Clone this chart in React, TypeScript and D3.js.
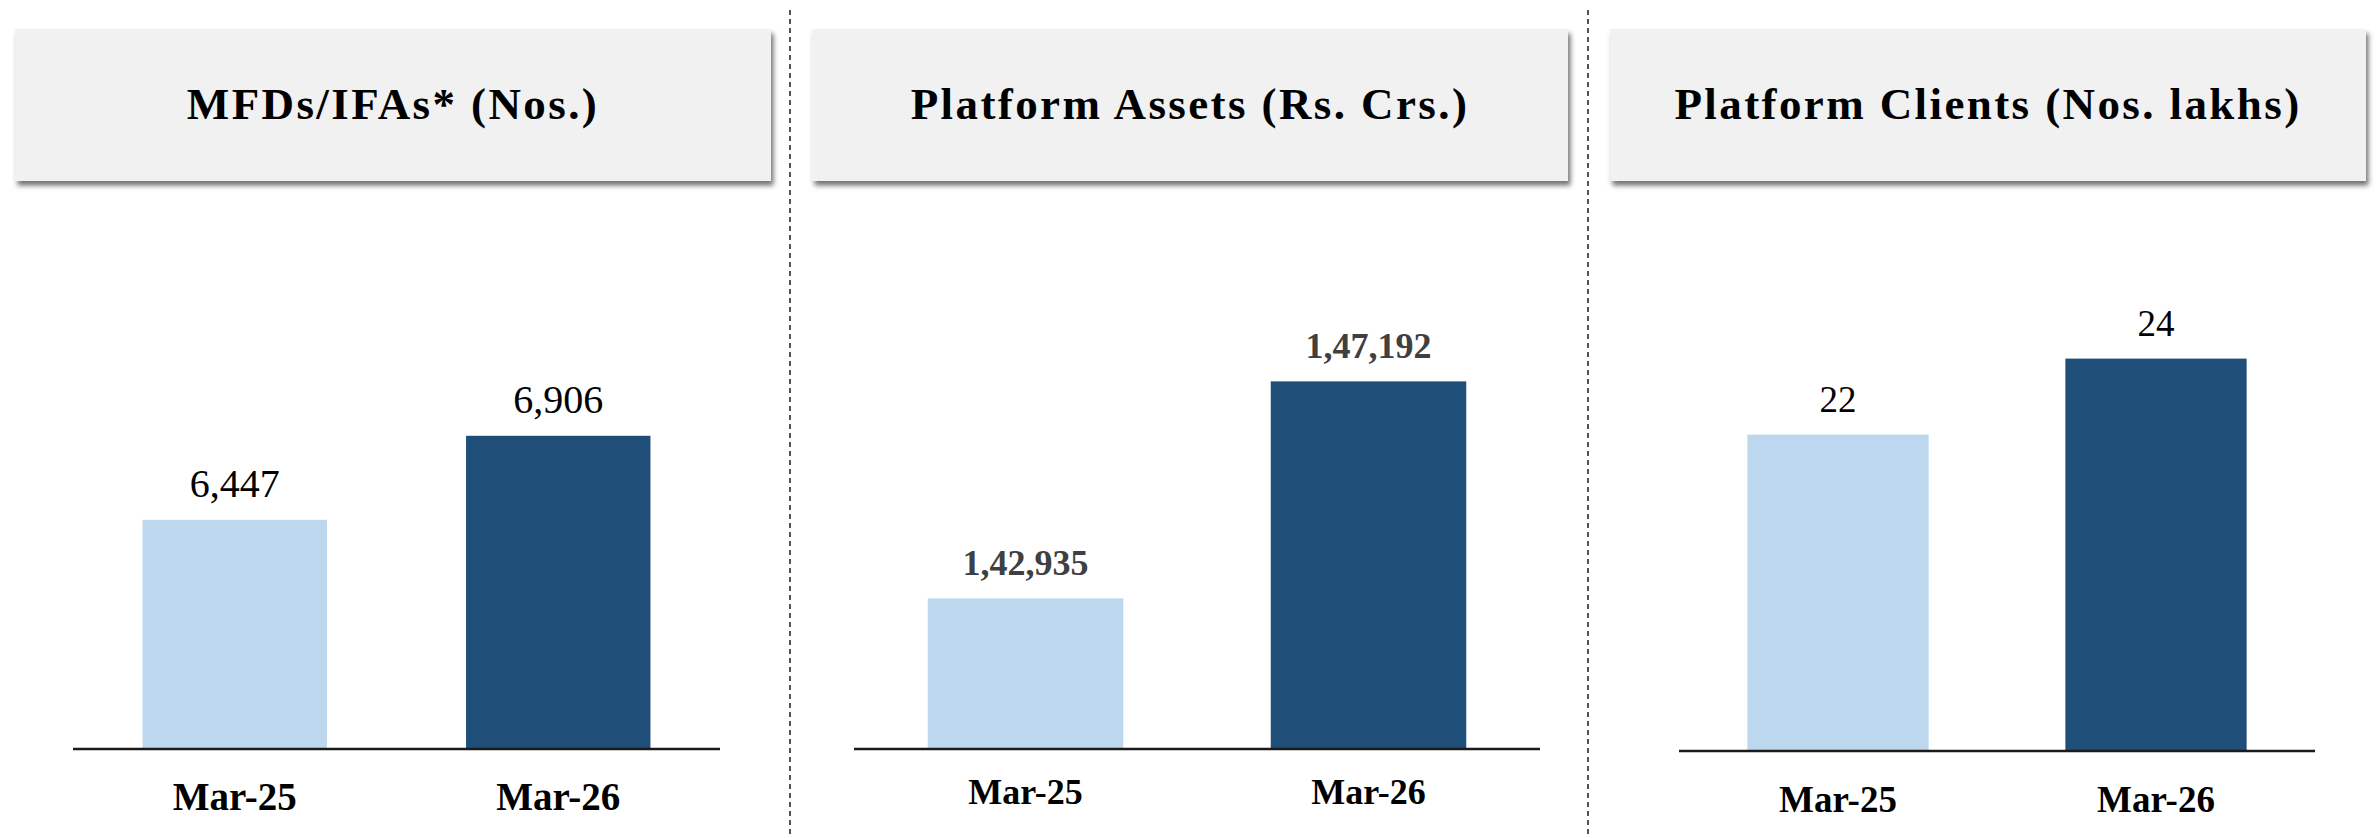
import React from "react";
import * as d3 from "d3";

// ---- Data ----
const categories = ["Mar-25", "Mar-26"];
const titles = ["MFDs/IFAs* (Nos.)", "Platform Assets (Rs. Crs.)", "Platform Clients (Nos. lakhs)"];
const mfdValues = [6447, 6906];
const mfdLabels = ["6,447", "6,906"];
const assetValues = [142935, 147192];
const assetLabels = ["1,42,935", "1,47,192"];
const clientValues = [22, 24];
const clientLabels = ["22", "24"];

// ---- Layout / style ----
const W = 2379;
const H = 838;
const LIGHT = "#BDD7EE";
const DARK = "#1F4E79";
const barColors = [LIGHT, DARK];
const serif = "'Liberation Serif', 'Times New Roman', serif";

const panels = [
  {
    title: titles[0], values: mfdValues, labels: mfdLabels,
    box: [15, 771], axisX: [73, 720], baseY: 748, domain: [5200, 7200], top: 382,
    valueFont: 40, valueWeight: "normal", valueColor: "#000", catFont: 39, catY: 810,
  },
  {
    title: titles[1], values: assetValues, labels: assetLabels,
    box: [812, 1568], axisX: [854, 1540], baseY: 748, domain: [140000, 148000], top: 340.2,
    valueFont: 36, valueWeight: "bold", valueColor: "#404040", catFont: 36, catY: 804,
  },
  {
    title: titles[2], values: clientValues, labels: clientLabels,
    box: [1610, 2366], axisX: [1679, 2315], baseY: 750, domain: [13.7, 25], top: 320.6,
    valueFont: 37, valueWeight: "normal", valueColor: "#000", catFont: 37, catY: 812,
  },
];
const dividers = [790, 1588];

export default function App() {
  return (
    <svg
      width={W}
      height={H}
      viewBox={`0 0 ${W} ${H}`}
      style={{ position: "absolute", left: 0, top: 0, display: "block", background: "#fff" }}
    >
      <defs>
        <filter id="boxShadow" x="-5%" y="-10%" width="110%" height="130%">
          <feDropShadow dx="2.5" dy="4.5" stdDeviation="2.5" floodColor="#000" floodOpacity="0.55" />
        </filter>
      </defs>
      <rect x={0} y={0} width={W} height={H} fill="#fff" />
      {dividers.map((x, i) => (
        <line key={i} x1={x} x2={x} y1={10} y2={H} stroke="#555" strokeWidth={2} strokeDasharray="5,4" />
      ))}
      {panels.map((p, pi) => {
        const x = d3.scaleBand<string>().domain(categories).range(p.axisX as [number, number])
          .paddingInner(0.43).paddingOuter(0.215).align(0.5);
        const y = d3.scaleLinear().domain(p.domain).range([p.baseY, p.top]);
        const boxW = p.box[1] - p.box[0];
        return (
          <g key={pi}>
            <rect x={p.box[0]} y={29} width={boxW} height={152} fill="#F1F1F1" filter="url(#boxShadow)" />
            <text
              x={p.box[0] + boxW / 2}
              y={119}
              textAnchor="middle"
              fontFamily={serif}
              fontWeight="bold"
              fontSize={45}
              letterSpacing={2.4}
              fill="#000"
            >
              {p.title}
            </text>
            {categories.map((c, i) => (
              <rect
                key={c}
                x={x(c)}
                y={y(p.values[i])}
                width={x.bandwidth()}
                height={p.baseY - y(p.values[i])}
                fill={barColors[i]}
              />
            ))}
            {categories.map((c, i) => (
              <text
                key={"v" + c}
                x={(x(c) as number) + x.bandwidth() / 2}
                y={y(p.values[i]) - 23}
                textAnchor="middle"
                fontFamily={serif}
                fontSize={p.valueFont}
                fontWeight={p.valueWeight}
                fill={p.valueColor}
              >
                {p.labels[i]}
              </text>
            ))}
            <line x1={p.axisX[0]} x2={p.axisX[1]} y1={p.baseY + 1} y2={p.baseY + 1} stroke="#1a1a1a" strokeWidth={2.5} />
            {categories.map((c) => (
              <text
                key={"c" + c}
                x={(x(c) as number) + x.bandwidth() / 2}
                y={p.catY}
                textAnchor="middle"
                fontFamily={serif}
                fontSize={p.catFont}
                fontWeight="bold"
                fill="#000"
              >
                {c}
              </text>
            ))}
          </g>
        );
      })}
    </svg>
  );
}
